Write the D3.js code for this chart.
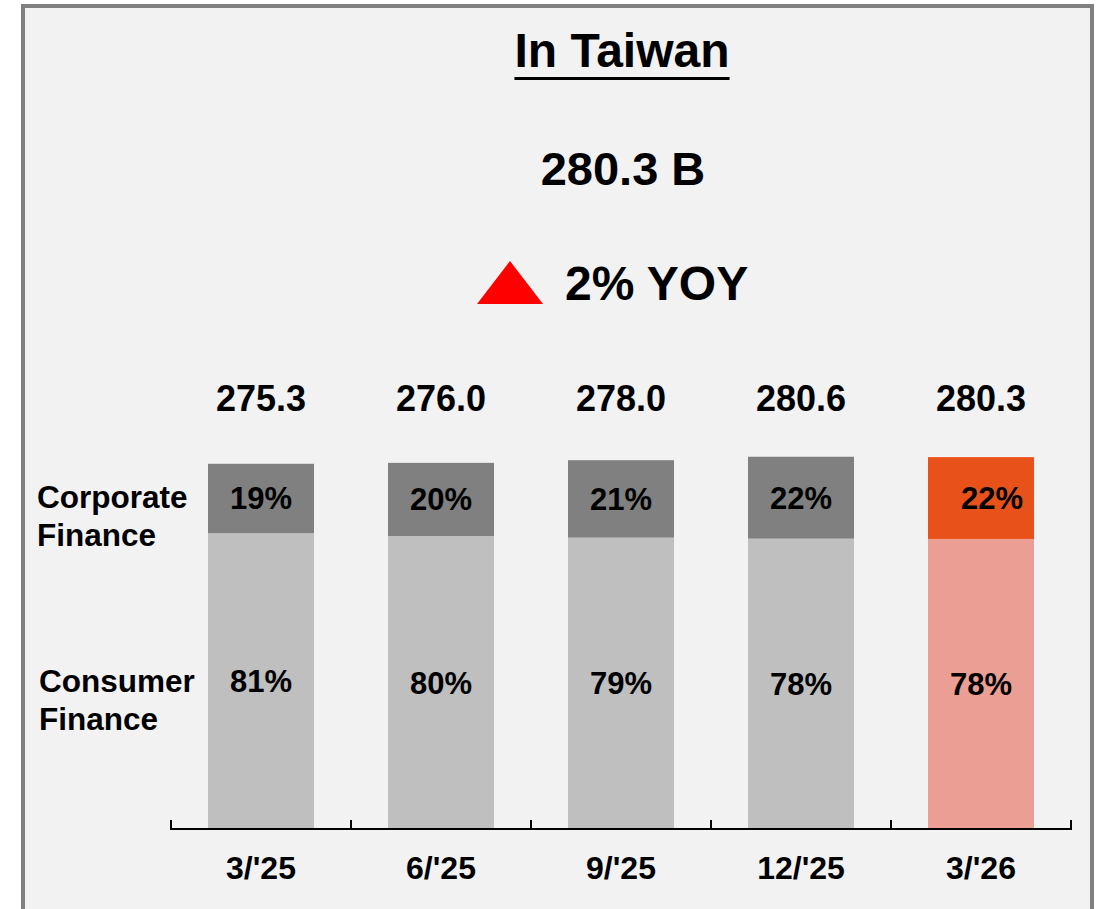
<!DOCTYPE html>
<html>
<head>
<meta charset="utf-8">
<script src="https://cdn.jsdelivr.net/npm/d3@7"></script>
<style>
html,body{margin:0;padding:0;background:#ffffff;}
svg text{font-family:"Liberation Sans",Arial,Helvetica,sans-serif;font-weight:bold;fill:#000;}
</style>
</head>
<body>
<svg id="chart" width="1099" height="909"></svg>
<script>
const categories = ["3/'25", "6/'25", "9/'25", "12/'25", "3/'26"];
const totals = [275.3, 276.0, 278.0, 280.6, 280.3];
const corporatePct = [19, 20, 21, 22, 22];
const consumerPct = [81, 80, 79, 78, 78];
const totalLabels = ["275.3", "276.0", "278.0", "280.6", "280.3"];
const headline = "280.3 B";
const yoyText = "2% YOY";
const titleText = "In Taiwan";

const svg = d3.select("#chart");

// frame
svg.append("rect").attr("x", 23).attr("y", 6).attr("width", 1069).attr("height", 960)
  .attr("fill", "#f2f2f2").attr("stroke", "#808080").attr("stroke-width", 4);

// title
const title = svg.append("text").attr("x", 622).attr("y", 67).attr("text-anchor", "middle")
  .style("font-size", "48px").text(titleText);
const tw = title.node().getComputedTextLength();
svg.append("rect").attr("x", 622 - tw / 2).attr("y", 77).attr("width", tw).attr("height", 3).attr("fill", "#000");

svg.append("text").attr("x", 623).attr("y", 185).attr("text-anchor", "middle")
  .style("font-size", "47px").text(headline);

svg.append("path").attr("d", "M477,304L543,304L510,261Z").attr("fill", "#ff0000");
svg.append("text").attr("x", 565).attr("y", 300).style("font-size", "48px").text(yoyText);

// scales
const x = d3.scaleBand().domain(categories).range([171, 1071]).paddingInner(0.411).paddingOuter(0.2055);
const y = d3.scaleLinear().domain([0, 300]).range([829, 431]);

const data = categories.map((c, i) => {
  const corp = totals[i] * corporatePct[i] / 100;
  return { cat: c, i, total: totals[i], corp, cons: totals[i] - corp, last: i === categories.length - 1 };
});

const g = svg.append("g");
// consumer segment
g.selectAll(".cons").data(data).join("rect")
  .attr("x", d => x(d.cat)).attr("width", x.bandwidth())
  .attr("y", d => y(d.cons)).attr("height", d => y(0) - y(d.cons))
  .attr("fill", d => d.last ? "#eb9e94" : "#bfbfbf");
// corporate segment
g.selectAll(".corp").data(data).join("rect")
  .attr("x", d => x(d.cat)).attr("width", x.bandwidth())
  .attr("y", d => y(d.total)).attr("height", d => y(d.cons) - y(d.total))
  .attr("fill", d => d.last ? "#e8521a" : "#808080");

// pct labels
g.selectAll(".corpLbl").data(data).join("text")
  .attr("x", d => x(d.cat) + x.bandwidth() / 2 + (d.last ? 11 : 0))
  .attr("y", d => (y(d.total) + y(d.cons)) / 2 + 11)
  .attr("text-anchor", "middle").style("font-size", "31px")
  .text(d => corporatePct[d.i] + "%");
g.selectAll(".consLbl").data(data).join("text")
  .attr("x", d => x(d.cat) + x.bandwidth() / 2)
  .attr("y", d => (y(d.cons) + y(0)) / 2 + 11)
  .attr("text-anchor", "middle").style("font-size", "31px")
  .text(d => consumerPct[d.i] + "%");

// totals
g.selectAll(".tot").data(data).join("text")
  .attr("x", d => x(d.cat) + x.bandwidth() / 2).attr("y", 411)
  .attr("text-anchor", "middle").style("font-size", "36px")
  .text(d => totalLabels[d.i]);

// axis
const ax = svg.append("g");
ax.append("line").attr("x1", 171).attr("x2", 1071).attr("y1", 829).attr("y2", 829)
  .attr("stroke", "#000").attr("stroke-width", 2);
d3.range(categories.length + 1).forEach(k => {
  const tx = 171 + k * x.step();
  ax.append("line").attr("x1", tx).attr("x2", tx).attr("y1", 820).attr("y2", 830)
    .attr("stroke", "#000").attr("stroke-width", 2);
});
ax.selectAll(".tl").data(categories).join("text")
  .attr("x", d => x(d) + x.bandwidth() / 2).attr("y", 879)
  .attr("text-anchor", "middle").style("font-size", "32px").text(d => d);

// left legend labels
const leg = [["Corporate", "Finance", 37, 508], ["Consumer", "Finance", 39, 692]];
leg.forEach(([a, b, lx, ly]) => {
  const t = svg.append("text").attr("x", lx).attr("y", ly).style("font-size", "31.5px");
  t.append("tspan").attr("x", lx).attr("y", ly).text(a);
  t.append("tspan").attr("x", lx).attr("y", ly + 38).text(b);
});
</script>
</body>
</html>
